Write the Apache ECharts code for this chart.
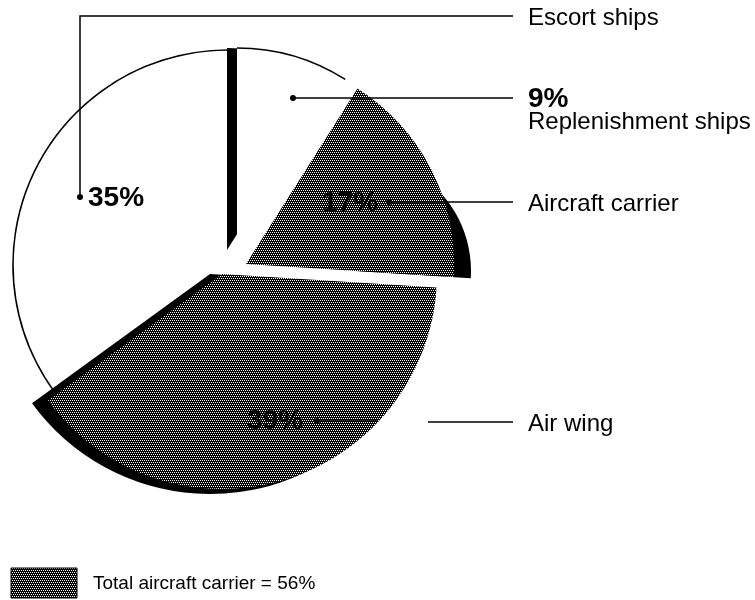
<!DOCTYPE html>
<html>
<head>
<meta charset="utf-8">
<script src="https://cdn.jsdelivr.net/npm/echarts@6/dist/echarts.min.js"></script>
<style>
html, body { margin: 0; padding: 0; background: #fff; }
#main { width: 755px; height: 600px; }
</style>
</head>
<body>
<div id="main"></div>
<script>
// data, clockwise from 12 o'clock
var categories = ['Replenishment ships', 'Aircraft carrier', 'Air wing', 'Escort ships'];
var shares = [9, 17, 39, 35];
var hatched = [false, true, true, false];
var carrierParts = [1, 2];

// exploded layout of each slice (pixels)
var sliceCenter = [[237, 250], [246, 264], [222, 274], [228, 265]];
var sliceRadius = [202, 208, 215, 215];
// black "depth" sector behind a slice (null = none)
var depthCenter = [[227, 250], [355, 271], [210, 274], null];
var depthRadius = [202, 116, 220, 0];
var drawOrder = [3, 0, 1, 2];

var FONT = '"Liberation Sans", Arial, Helvetica, sans-serif';

// dotted screen like the print
function makeHatch() {
    var c = document.createElement('canvas');
    c.width = 4; c.height = 4;
    var ctx = c.getContext('2d');
    ctx.fillStyle = '#000';
    ctx.fillRect(0, 0, 4, 4);
    ctx.fillStyle = '#fff';
    for (var y = 0; y < 4; y++) {
        for (var x = 0; x < 4; x++) {
            if (x % 2 === 0 && y % 2 === 0) ctx.fillRect(x + (y % 4 === 2 ? 1 : 0), y, 1, 1);
        }
    }
    return c;
}
var hatch = { image: makeHatch(), repeat: 'repeat' };
var NONE = 'rgba(0,0,0,0)';

function pieOf(i, center, radius, style) {
    return {
        type: 'pie',
        silent: true,
        animation: false,
        startAngle: 90,
        clockwise: true,
        center: center,
        radius: radius,
        label: { show: false },
        labelLine: { show: false },
        emphasis: { disabled: true },
        data: shares.map(function (v, j) {
            var st = j === i ? style : { color: NONE, borderWidth: 0 };
            return { name: categories[j], value: v, itemStyle: st };
        })
    };
}

var series = [];
drawOrder.forEach(function (i) {
    if (depthCenter[i]) {
        series.push(pieOf(i, depthCenter[i], depthRadius[i], { color: '#000', borderWidth: 0 }));
    }
    series.push(pieOf(i, sliceCenter[i], sliceRadius[i], { color: hatched[i] ? hatch : '#fff', borderWidth: 0 }));
    if (!hatched[i]) {
        // thin outline on the arc only
        series.push(pieOf(i, sliceCenter[i], [sliceRadius[i] - 0.8, sliceRadius[i] + 0.8], { color: '#000', borderWidth: 0 }));
    }
});

function txt(x, y, s, size, bold) {
    return {
        type: 'text', x: x, y: y, z: 100,
        style: { text: s, font: (bold ? 'bold ' : '') + size + 'px ' + FONT, fill: '#000', verticalAlign: 'middle' }
    };
}
function line(points) {
    return { type: 'polyline', z: 100, shape: { points: points }, style: { stroke: '#000', lineWidth: 1.5, fill: null } };
}
function dot(x, y) {
    return { type: 'circle', z: 100, shape: { cx: x, cy: y, r: 3 }, style: { fill: '#000' } };
}

var totalCarrier = carrierParts.reduce(function (s, k) { return s + shares[k]; }, 0);

var graphic = [
    // escort ships
    line([[80, 197], [80, 16], [513, 16]]), dot(80, 197),
    txt(88, 198, shares[3] + '%', 28, true),
    txt(528, 18, categories[3], 24, false),
    // replenishment
    line([[293, 98], [513, 98]]), dot(293, 98),
    txt(528, 99, shares[0] + '%', 28, true),
    txt(528, 122, categories[0], 24, false),
    // aircraft carrier
    txt(322, 203, shares[1] + '%', 28, true),
    line([[389, 202], [513, 202]]), dot(389, 202),
    txt(528, 204, categories[1], 24, false),
    // air wing
    txt(247, 421, shares[2] + '%', 28, true),
    line([[317, 421], [378, 421]]), line([[428, 422], [513, 422]]), dot(317, 421),
    txt(528, 424, categories[2], 24, false),
    // key
    { type: 'rect', z: 100, shape: { x: 11, y: 568, width: 66, height: 30 }, style: { fill: hatch, stroke: '#000', lineWidth: 1 } },
    txt(93, 584, 'Total aircraft carrier = ' + totalCarrier + '%', 19, false)
];

var chart = echarts.init(document.getElementById('main'), null, { renderer: 'canvas' });
chart.setOption({
    backgroundColor: '#fff',
    animation: false,
    series: series,
    graphic: graphic
});
</script>
</body>
</html>
